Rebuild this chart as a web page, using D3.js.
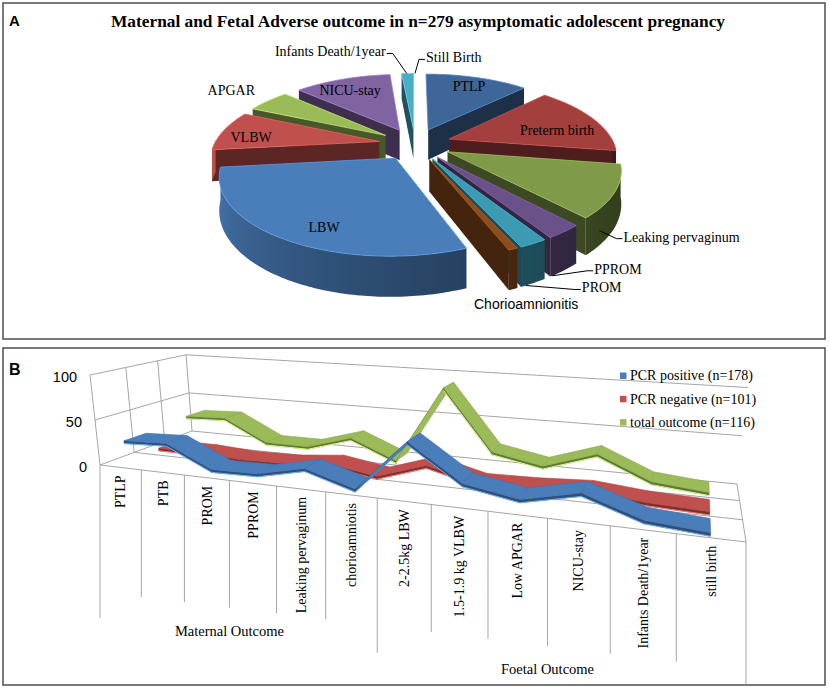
<!DOCTYPE html>
<meta charset="utf-8">
<style>

body {
  margin: 0;
  background: #fff;
}

svg {
  display: block;
}

.frame {
  fill: none;
  stroke: #4d4d4d;
  stroke-width: 1.5px;
}

.grid {
  fill: none;
  stroke: #a6a6a6;
  stroke-width: 1px;
}

.serif {
  font-family: "Liberation Serif", "Times New Roman", serif;
  fill: #000;
}

.sans {
  font-family: "Liberation Sans", Arial, sans-serif;
  fill: #000;
}

.leader {
  fill: none;
  stroke: #000;
  stroke-width: 1px;
}

</style>
<svg width="829" height="689"></svg>
<script src="https://d3js.org/d3.v7.min.js"></script>
<script>

// ---- panel A data (pie) ----
var pieLabels = ["PTLP", "Preterm birth", "Leaking pervaginum", "PPROM", "PROM", "Chorioamnionitis",
                 "LBW", "VLBW", "APGAR", "NICU-stay", "Infants Death/1year", "Still Birth"];
var pieCounts = [17, 21, 15, 4, 3, 1, 40, 12, 7, 16, 2, 0];
var pieColors = ["#3f6699", "#a3403d", "#7f9a48", "#6a5189", "#3c9bb3", "#8f4d1c",
                 "#4a7ebb", "#c0504d", "#9bbb59", "#8064a2", "#4bacc6", "#f79646"];

// ---- panel B data (3d lines) ----
var categories = ["PTLP", "PTB", "PROM", "PPROM", "Leaking pervaginum", "chorioamniotis",
                  "2-2.5kg LBW", "1.5-1.9 kg VLBW", "Low APGAR", "NICU-stay", "Infants Death/1year", "still birth"];
var groupNames = ["Maternal Outcome", "Foetal Outcome"];
var groupSizes = [6, 6];
var seriesNames = ["PCR positive (n=178)", "PCR negative (n=101)", "total outcome (n=116)"];
var pcrPositive  = [27, 29, 6, 7, 18, 3, 55, 20, 11, 23, 5, 1];
var pcrNegative  = [5, 5, 2, 3, 8, 0, 17, 4, 5, 8, 3, 1];
var totalOutcome = [31, 33, 8, 8, 23, 2, 88, 22, 12, 30, 7, 2];
var seriesColors = ["#4a7ebb", "#c0504d", "#9bbb59"];
var valueTicks = [0, 50, 100];

var svg = d3.select("svg");
var defs = svg.append("defs");

svg.append("rect").attr("class", "frame").attr("x", 3).attr("y", 3).attr("width", 822).attr("height", 336);
svg.append("rect").attr("class", "frame").attr("x", 3).attr("y", 348).attr("width", 822).attr("height", 337);

svg.append("text").attr("class", "sans").attr("x", 9).attr("y", 26)
    .style("font-size", "15px").style("font-weight", "bold").text("A");
svg.append("text").attr("class", "sans").attr("x", 9).attr("y", 375)
    .style("font-size", "16px").style("font-weight", "bold").text("B");

svg.append("text").attr("class", "serif")
    .attr("x", 418).attr("y", 27)
    .attr("text-anchor", "middle")
    .attr("textLength", 614).attr("lengthAdjust", "spacingAndGlyphs")
    .style("font-size", "17px").style("font-weight", "bold")
    .text("Maternal and Fetal Adverse outcome in n=279 asymptomatic adolescent pregnancy");

function poly(pts) {
  return "M" + pts.map(function(p) { return p[0].toFixed(2) + "," + p[1].toFixed(2); }).join("L") + "Z";
}

// ================= panel A : exploded 3d pie =================
var CX = 415, CY = 144, RX = 165, RY = 72, PERSP = 0.2, DEPTH = 31, EXPLODE = 0.22;

function proj(u, v, z) {  // top-view coords (radius units) -> screen, z=0 top, 1 bottom
  var s = 1 / (1 - PERSP * v);
  return [CX + u * s * RX, CY + v * s * RY + z * DEPTH * s];
}

var arcs = d3.pie().sort(null).value(function(d) { return d; })(pieCounts);
arcs.forEach(function(d, i) {
  d.i = i;
  d.mid = (d.startAngle + d.endAngle) / 2;
  d.eu = EXPLODE * Math.sin(d.mid);
  d.ev = -EXPLODE * Math.cos(d.mid);
});

function sp(d, r, a, z) { return proj(d.eu + r * Math.sin(a), d.ev - r * Math.cos(a), z); }
function shade(a) { return Math.max(0, Math.min(2.5, (1.5 * Math.PI - a) / (Math.PI / 3))); }

var pieG = svg.append("g");
var walls = [], step = Math.PI / 180;

arcs.forEach(function(d) {
  if (d.endAngle - d.startAngle < 1e-6) return;
  var c = d3.color(pieColors[d.i]);
  var lo = Math.max(d.startAngle, Math.PI / 2), hi = Math.min(d.endAngle, 1.5 * Math.PI);
  if (hi > lo) {
    var n = Math.max(2, Math.ceil((hi - lo) / step)), angs = d3.range(n + 1).map(function(j) { return lo + (hi - lo) * j / n; });
    var topPts = angs.map(function(a) { return sp(d, 1, a, 0); });
    var botPts = angs.map(function(a) { return sp(d, 1, a, 1); }).reverse();
    var x1 = topPts[0][0], x2 = topPts[n][0], id = "wall" + d.i;
    var grad = defs.append("linearGradient").attr("id", id).attr("gradientUnits", "userSpaceOnUse")
        .attr("x1", x1).attr("y1", 0).attr("x2", x2).attr("y2", 0);
    angs.forEach(function(a, j) {
      grad.append("stop").attr("offset", Math.abs(x2 - x1) < 1e-6 ? 0 : (topPts[j][0] - x1) / (x2 - x1))
          .attr("stop-color", c.darker(shade(a)));
    });
    walls.push({key: d.ev - Math.cos((lo + hi) / 2), fill: "url(#" + id + ")", pts: topPts.concat(botPts)});
  }
  [[d.startAngle, Math.sin(d.startAngle) < -0.01], [d.endAngle, Math.sin(d.endAngle) > 0.01]].forEach(function(w) {
    if (!w[1]) return;
    walls.push({key: d.ev - 0.5 * Math.cos(w[0]), fill: c.darker(2.1),
                pts: [sp(d, 0, 0, 0), sp(d, 1, w[0], 0), sp(d, 1, w[0], 1), sp(d, 0, 0, 1)]});
  });
});

walls.sort(function(a, b) { return a.key - b.key; });
pieG.selectAll(".wall").data(walls).enter().append("path")
    .attr("class", "wall")
    .attr("d", function(w) { return poly(w.pts); })
    .attr("fill", function(w) { return w.fill; });

var tops = arcs.filter(function(d) { return d.endAngle - d.startAngle > 1e-6; })
    .sort(function(a, b) { return a.ev - b.ev; });
pieG.selectAll(".top").data(tops).enter().append("path")
    .attr("class", "top")
    .attr("d", function(d) {
      var pts = [sp(d, 0, 0, 0)];
      var n = Math.max(2, Math.ceil((d.endAngle - d.startAngle) / step));
      for (var j = 0; j <= n; j++) pts.push(sp(d, 1, d.startAngle + (d.endAngle - d.startAngle) * j / n, 0));
      return poly(pts);
    })
    .attr("fill", function(d) { return pieColors[d.i]; })
    .attr("stroke", function(d) { return d3.color(pieColors[d.i]).brighter(0.6); })
    .attr("stroke-width", 0.8);

// label placement: "in" = inside/near slice (angle deg, radius), "lead" = leader line from slice edge
var pieLabelLayout = [
  {mode: "in", a: 22, r: 0.82},
  {mode: "in", a: 79, r: 0.7},
  {mode: "lead", a: 131, z: 0.6, dx: 24, dy: 6},
  {mode: "lead", a: 148, z: 1, dx: 42, dy: -7},
  {mode: "lead", a: 155, z: 1, dx: 56, dy: 2},
  {mode: "in", a: 164, r: 1.39, sans: true},
  {mode: "in", a: 204, r: 0.82},
  {mode: "in", a: 275, r: 0.8},
  {mode: "in", a: 304, r: 1.36},
  {mode: "in", a: 332, r: 0.78},
  {mode: "lead", a: 357, z: 0, dx: -21, dy: -22},
  {mode: "lead", a: 360, z: 0, dx: 11, dy: -16}
];

arcs.forEach(function(d) {
  var L = pieLabelLayout[d.i], rad = L.a * Math.PI / 180;
  var t = svg.append("text")
      .attr("class", L.sans ? "sans" : "serif")
      .attr("dy", "0.35em")
      .style("font-size", "14px")
      .text(pieLabels[d.i]);
  if (L.mode === "in") {
    var p = sp(d, L.r, rad, 0);
    t.attr("x", p[0]).attr("y", p[1]).attr("text-anchor", "middle");
  } else {
    var q = sp(d, 1, rad, L.z), tx = q[0] + L.dx, ty = q[1] + L.dy, sg = L.dx < 0 ? 1 : -1;
    t.attr("x", tx).attr("y", ty).attr("text-anchor", L.dx < 0 ? "end" : "start");
    svg.append("path").attr("class", "leader")
        .attr("d", "M" + q[0] + "," + q[1] + "L" + (tx + sg * 7) + "," + (ty + 2) + "L" + (tx + sg * 1) + "," + (ty + 2));
  }
});

// ================= panel B : 3d line chart =================
var FL = [100, 465], FR = [746, 542], BR = [737, 484], BL = [192, 431];
var VP = [416, 3314], H100 = 90;

var Hm = (function(p0, p1, p2, p3) {
  var sx = p0[0] - p1[0] + p2[0] - p3[0], sy = p0[1] - p1[1] + p2[1] - p3[1];
  var dx1 = p1[0] - p2[0], dx2 = p3[0] - p2[0], dy1 = p1[1] - p2[1], dy2 = p3[1] - p2[1];
  var den = dx1 * dy2 - dx2 * dy1;
  var g = (sx * dy2 - dx2 * sy) / den, h = (dx1 * sy - sx * dy1) / den;
  return {a: p1[0] - p0[0] + g * p1[0], b: p3[0] - p0[0] + h * p3[0], c: p0[0],
          d: p1[1] - p0[1] + g * p1[1], e: p3[1] - p0[1] + h * p3[1], f: p0[1], g: g, h: h};
})(FL, FR, BR, BL);

var yScale = d3.scaleLinear().domain([0, 100]).range([0, 1]);
var xBand = d3.scaleBand().domain(categories).range([0, 1]);
var zBand = d3.scaleBand().domain(seriesNames).range([0, 1]);

function P3(u, v, val) {
  var w = Hm.g * u + Hm.h * v + 1;
  var fx = (Hm.a * u + Hm.b * v + Hm.c) / w, fy = (Hm.d * u + Hm.e * v + Hm.f) / w;
  var H = H100 / w * yScale(val);
  return [fx + H * (fx - VP[0]) / (VP[1] - fy), fy - H];
}

var gB = svg.append("g");
function seg(p, q) { gB.append("line").attr("class", "grid").attr("x1", p[0]).attr("y1", p[1]).attr("x2", q[0]).attr("y2", q[1]); }

var depthLines = [0, 1 / 3, 2 / 3, 1];
depthLines.forEach(function(v) {
  seg(P3(0, v, 0), P3(1, v, 0));            // floor lines
  seg(P3(0, v, 0), P3(0, v, 100));          // side wall verticals
});
seg(P3(1, 0, 0), P3(1, 1, 0));
valueTicks.forEach(function(t) {
  seg(P3(0, 0, t), P3(0, 1, t));            // side wall
  if (t > 0) seg(P3(0, 1, t), P3(1, 1, t)); // back wall
  var p = P3(0, 0, t);
  gB.append("text").attr("class", "sans")
      .attr("x", p[0] - 13).attr("y", p[1] + 2).attr("dy", "0.35em")
      .attr("text-anchor", "end").style("font-size", "14.5px").text(t);
});

// category labels and separators
function level1(x) { return 592 + 0.121 * (x - 100); }
function level2(x) { return Math.min(684, 618 + 0.125 * (x - 100)); }

var groupEdges = [0];
groupSizes.forEach(function(s, i) { groupEdges.push(groupEdges[i] + s); });

d3.range(categories.length + 1).forEach(function(k) {
  var p = P3(k / categories.length, 0, 0);
  var bottom = groupEdges.indexOf(k) >= 0 ? level2(p[0]) : level1(p[0]);
  seg(p, [p[0], bottom]);
});

categories.forEach(function(c) {
  var p = P3(xBand(c) + xBand.bandwidth() / 2, 0, 0);
  gB.append("text").attr("class", "serif")
      .attr("transform", "translate(" + p[0] + "," + (p[1] + 8) + ") rotate(-90)")
      .attr("dy", "0.35em").attr("text-anchor", "end")
      .style("font-size", "14px").text(c);
});

groupNames.forEach(function(g, i) {
  var p = P3((groupEdges[i] + groupEdges[i + 1]) / 2 / categories.length, 0, 0);
  gB.append("text").attr("class", "serif")
      .attr("x", p[0]).attr("y", level1(p[0]) + 28)
      .attr("text-anchor", "middle").style("font-size", "14.5px").text(g);
});

// ribbons, back to front
var seriesValues = [pcrPositive, pcrNegative, totalOutcome];
var HALF = 0.11, THICK = 3;
d3.range(seriesNames.length).reverse().forEach(function(s) {
  var vals = seriesValues[s], dc = zBand(seriesNames[s]) + zBand.bandwidth() / 2;
  var col = d3.color(seriesColors[s]);
  var g = gB.append("g");
  for (var i = 0; i < categories.length - 1; i++) {
    var u0 = xBand(categories[i]) + xBand.bandwidth() / 2, u1 = xBand(categories[i + 1]) + xBand.bandwidth() / 2;
    var f0 = P3(u0, dc - HALF, vals[i]), f1 = P3(u1, dc - HALF, vals[i + 1]);
    var b0 = P3(u0, dc + HALF, vals[i]), b1 = P3(u1, dc + HALF, vals[i + 1]);
    var l0 = P3(u0, dc - HALF, vals[i] - THICK), l1 = P3(u1, dc - HALF, vals[i + 1] - THICK);
    g.append("path").attr("d", poly([f0, f1, l1, l0]))
        .attr("fill", col.darker(1.3)).attr("stroke", col.darker(1.3)).attr("stroke-width", 0.5);
    g.append("path").attr("d", "M" + l0[0] + "," + l0[1] + "L" + l1[0] + "," + l1[1])
        .attr("stroke", col.brighter(0.9)).attr("stroke-width", 1).attr("fill", "none");
    g.append("path").attr("d", poly([f0, f1, b1, b0]))
        .attr("fill", col).attr("stroke", col.darker(0.3)).attr("stroke-width", 0.6);
  }
});

// legend
seriesNames.forEach(function(n, i) {
  var y = 375.5 + i * 23.3;
  gB.append("rect").attr("x", 620).attr("y", y - 3).attr("width", 6.5).attr("height", 6.5)
      .attr("fill", seriesColors[i]);
  gB.append("text").attr("class", "serif")
      .attr("x", 630).attr("y", y).attr("dy", "0.35em")
      .style("font-size", "14px").text(n);
});

</script>
